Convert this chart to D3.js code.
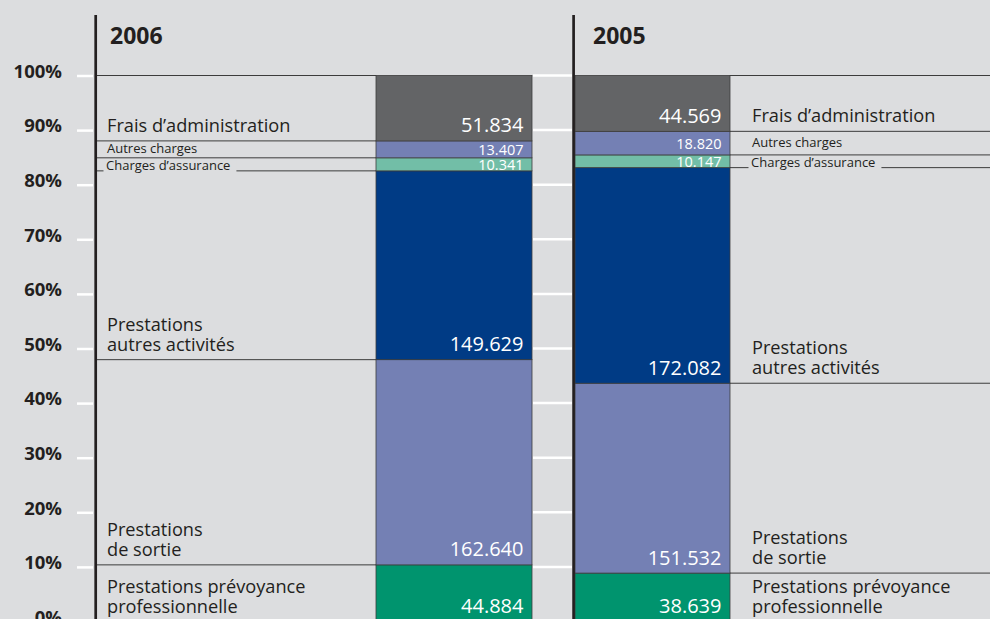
<!DOCTYPE html>
<html><head><meta charset="utf-8">
<script src="https://cdn.jsdelivr.net/npm/d3@7"></script>
<style>html,body{margin:0;padding:0;background:#dcdddf;}svg{display:block;font-family:"Open Sans",sans-serif;}</style>
</head><body><svg id="c" width="990" height="619"></svg>
<script>
// ---- data ----
const years = ["2006", "2005"];
const categories = ["Prestations prévoyance professionnelle", "Prestations de sortie", "Prestations autres activités", "Charges d’assurance", "Autres charges", "Frais d’administration"];
const labelLines = [["Prestations prévoyance", "professionnelle"], ["Prestations", "de sortie"], ["Prestations", "autres activités"], ["Charges d’assurance"], ["Autres charges"], ["Frais d’administration"]];
const values2006 = [44.884, 162.640, 149.629, 10.341, 13.407, 51.834];
const values2005 = [38.639, 151.532, 172.082, 10.147, 18.820, 44.569];
const tickValues = [0, 0.1, 0.2, 0.3, 0.4, 0.5, 0.6, 0.7, 0.8, 0.9, 1];
const tickLabels = ["0%", "10%", "20%", "30%", "40%", "50%", "60%", "70%", "80%", "90%", "100%"];

// ---- style / layout ----
const colors = ["#00946e", "#7480b4", "#003b85", "#72bea7", "#7480b4", "#636466"];
const smallSeg = [false, false, false, true, true, false];
const bg = "#dcdddf", ink = "#231f20", lineCol = "#3c3c3c";
const panels = [
  {bar: [376, 532], label: 107, line: [95, 376], title: 110},
  {bar: [575, 730], label: 752, line: [730, 990], title: 593}
];

const svg = d3.select("#c");
svg.append("rect").attr("width", 990).attr("height", 619).attr("fill", bg);

const y = d3.scaleLinear().domain([0, 1]).range([621.5, 75.5]);

const series = [values2006, values2005];
const rows = years.map((yr, i) => { const o = {year: yr}; categories.forEach((c, j) => o[c] = series[i][j]); return o; });
const layers = d3.stack().keys(categories).offset(d3.stackOffsetExpand)(rows);

// white gridlines in the gap between panels
svg.append("g").selectAll("line").data(tickValues).join("line")
  .attr("x1", 533).attr("x2", 572).attr("y1", d => y(d)).attr("y2", d => y(d))
  .attr("stroke", "#fff").attr("stroke-width", 2.5);

// y axis ticks/labels
const ax = svg.append("g").attr("transform", "translate(93,0)")
  .call(d3.axisLeft(y).tickValues(tickValues).tickFormat((d, i) => tickLabels[i]).tickSize(16).tickPadding(15));
ax.select(".domain").remove();
ax.selectAll(".tick line").attr("stroke", "#fff").attr("stroke-width", 2.5);
ax.selectAll(".tick text").attr("dy", "0.1em").attr("fill", ink)
  .style("font-family", "'Open Sans',sans-serif").style("font-size", "18.5px").style("font-weight", "700");

const defs = svg.append("defs");

years.forEach((yr, i) => {
  const p = panels[i];
  const g = svg.append("g");
  const segs = categories.map((c, j) => ({j, y0: layers[j][i][0], y1: layers[j][i][1], v: series[i][j]}));

  // leader lines at each segment top
  g.selectAll("line.lead").data(segs).join("line").attr("class", "lead")
    .attr("x1", p.line[0]).attr("x2", p.line[1])
    .attr("y1", d => y(d.y1)).attr("y2", d => y(d.y1))
    .attr("stroke", lineCol).attr("stroke-width", 1);

  // bars
  g.selectAll("rect.seg").data(segs).join("rect").attr("class", "seg")
    .attr("x", p.bar[0]).attr("width", p.bar[1] - p.bar[0])
    .attr("y", d => y(d.y1)).attr("height", d => y(d.y0) - y(d.y1))
    .attr("fill", d => colors[d.j]).attr("stroke", lineCol).attr("stroke-width", 0.8);

  // clip paths for small value labels
  segs.forEach(d => {
    defs.append("clipPath").attr("id", `clip${i}_${d.j}`).append("rect")
      .attr("x", p.bar[0]).attr("width", p.bar[1] - p.bar[0])
      .attr("y", y(d.y1)).attr("height", y(d.y0) - y(d.y1));
  });

  // values
  g.selectAll("text.val").data(segs).join("text").attr("class", "val")
    .attr("x", p.bar[1] - 8.5)
    .attr("y", d => smallSeg[d.j] ? (y(d.y0) + y(d.y1)) / 2 + 5.5 : y(d.y0) - 8.5)
    .attr("clip-path", d => smallSeg[d.j] ? `url(#clip${i}_${d.j})` : null)
    .attr("text-anchor", "end").attr("fill", "#fff")
    .style("font-size", d => smallSeg[d.j] ? "14.5px" : "20px")
    .text(d => d.v.toFixed(3));

  // category labels
  segs.forEach(d => {
    const lines = labelLines[d.j];
    if (d.j === 3) {
      const by = y(d.y0) - 1;
      const bgR = g.append("rect").attr("fill", bg);
      const t = g.append("text").attr("x", p.label - 1).attr("y", by).attr("fill", ink)
        .style("font-size", "13px").text(lines[0]);
      const w = t.node().getComputedTextLength();
      bgR.attr("x", p.label - 3.5).attr("y", by - 9).attr("width", w + 8.5).attr("height", 12);
    } else if (d.j === 4) {
      g.append("text").attr("x", p.label).attr("y", (y(d.y0) + y(d.y1)) / 2 + 4).attr("fill", ink)
        .style("font-size", "13px").text(lines[0]);
    } else {
      const last = y(d.y0) - 9;
      g.append("text").attr("fill", ink).style("font-size", "18.2px")
        .selectAll("tspan").data(lines).join("tspan")
        .attr("x", p.label).attr("y", (l, k) => last - (lines.length - 1 - k) * 20)
        .text(l => l);
    }
  });

  // title
  svg.append("text").attr("x", p.title).attr("y", 44).attr("fill", ink)
    .style("font-size", "23px").style("font-weight", "700").text(yr);
});

// dark vertical axis lines
svg.append("g").selectAll("line").data([95.7, 573.6]).join("line")
  .attr("x1", d => d).attr("x2", d => d).attr("y1", 15).attr("y2", 619)
  .attr("stroke", ink).attr("stroke-width", 2.7);
</script></body></html>
